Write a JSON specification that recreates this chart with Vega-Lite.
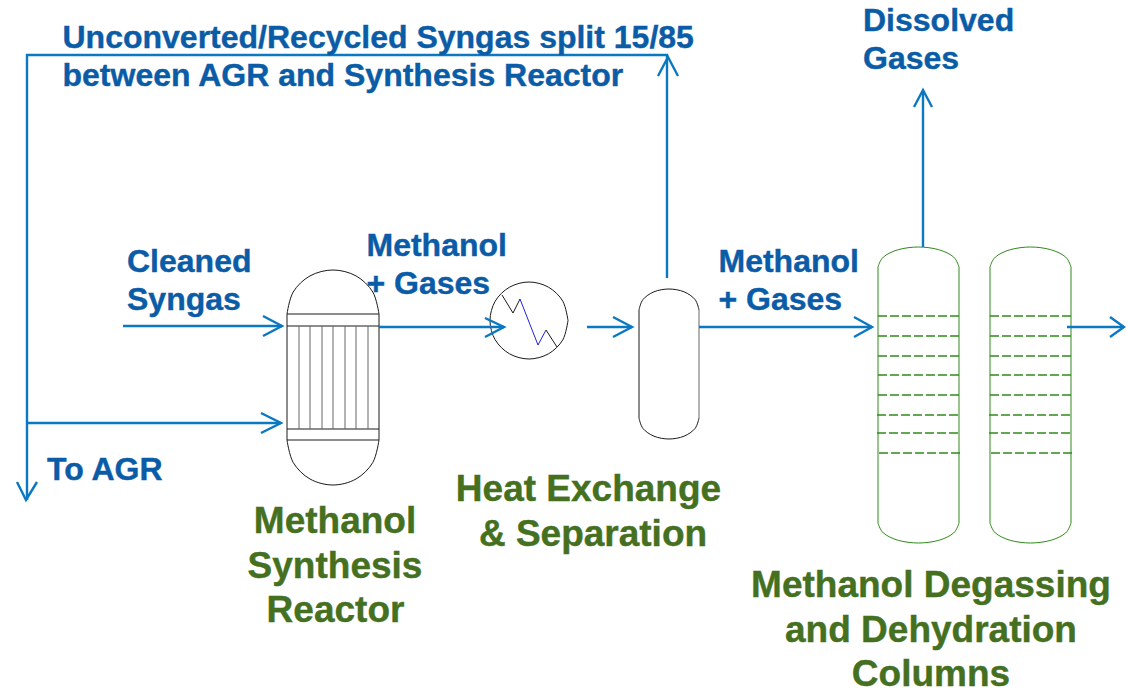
{
"$schema":"https://vega.github.io/schema/vega-lite/v6.json",
"width":1126,"height":690,"padding":0,
"autosize":"none",
"background":"white",
"view":{"stroke":null},
"datasets":{
"domes":[
{"p":"r1","i":1,"x":287,"y":314,"k":"black"},{"p":"r1","i":2,"x":293.2,"y":292,"k":"black"},{"p":"r1","i":3,"x":310,"y":275.9,"k":"black"},{"p":"r1","i":4,"x":333,"y":270,"k":"black"},{"p":"r1","i":5,"x":356,"y":275.9,"k":"black"},{"p":"r1","i":6,"x":372.8,"y":292,"k":"black"},{"p":"r1","i":7,"x":379,"y":314,"k":"black"},
{"p":"r2","i":1,"x":287,"y":440,"k":"black"},{"p":"r2","i":2,"x":293.2,"y":462.5,"k":"black"},{"p":"r2","i":3,"x":310,"y":479,"k":"black"},{"p":"r2","i":4,"x":333,"y":485,"k":"black"},{"p":"r2","i":5,"x":356,"y":479,"k":"black"},{"p":"r2","i":6,"x":372.8,"y":462.5,"k":"black"},{"p":"r2","i":7,"x":379,"y":440,"k":"black"},
{"p":"hx","i":1,"x":568,"y":320.5,"k":"black"},{"p":"hx","i":2,"x":562.8,"y":339.8,"k":"black"},{"p":"hx","i":3,"x":548.5,"y":353.8,"k":"black"},{"p":"hx","i":4,"x":529,"y":359,"k":"black"},{"p":"hx","i":5,"x":509.5,"y":353.8,"k":"black"},{"p":"hx","i":6,"x":495.2,"y":339.8,"k":"black"},{"p":"hx","i":7,"x":490,"y":320.5,"k":"black"},{"p":"hx","i":8,"x":495.2,"y":301.2,"k":"black"},{"p":"hx","i":9,"x":509.5,"y":287.2,"k":"black"},{"p":"hx","i":10,"x":529,"y":282,"k":"black"},{"p":"hx","i":11,"x":548.5,"y":287.2,"k":"black"},{"p":"hx","i":12,"x":562.8,"y":301.2,"k":"black"},{"p":"hx","i":13,"x":568,"y":320.5,"k":"black"},
{"p":"s1","i":1,"x":639,"y":310,"k":"black"},{"p":"s1","i":2,"x":643,"y":299.5,"k":"black"},{"p":"s1","i":3,"x":654,"y":291.8,"k":"black"},{"p":"s1","i":4,"x":669,"y":289,"k":"black"},{"p":"s1","i":5,"x":684,"y":291.8,"k":"black"},{"p":"s1","i":6,"x":695,"y":299.5,"k":"black"},{"p":"s1","i":7,"x":699,"y":310,"k":"black"},
{"p":"s2","i":1,"x":639,"y":418,"k":"black"},{"p":"s2","i":2,"x":643,"y":428.5,"k":"black"},{"p":"s2","i":3,"x":654,"y":436.2,"k":"black"},{"p":"s2","i":4,"x":669,"y":439,"k":"black"},{"p":"s2","i":5,"x":684,"y":436.2,"k":"black"},{"p":"s2","i":6,"x":695,"y":428.5,"k":"black"},{"p":"s2","i":7,"x":699,"y":418,"k":"black"},
{"p":"c1a","i":1,"x":878,"y":267,"k":"green"},{"p":"c1a","i":2,"x":883.4,"y":257,"k":"green"},{"p":"c1a","i":3,"x":898.2,"y":249.7,"k":"green"},{"p":"c1a","i":4,"x":918.5,"y":247,"k":"green"},{"p":"c1a","i":5,"x":938.8,"y":249.7,"k":"green"},{"p":"c1a","i":6,"x":953.6,"y":257,"k":"green"},{"p":"c1a","i":7,"x":959,"y":267,"k":"green"},
{"p":"c1b","i":1,"x":878,"y":523,"k":"green"},{"p":"c1b","i":2,"x":883.4,"y":533,"k":"green"},{"p":"c1b","i":3,"x":898.2,"y":540.3,"k":"green"},{"p":"c1b","i":4,"x":918.5,"y":543,"k":"green"},{"p":"c1b","i":5,"x":938.8,"y":540.3,"k":"green"},{"p":"c1b","i":6,"x":953.6,"y":533,"k":"green"},{"p":"c1b","i":7,"x":959,"y":523,"k":"green"},
{"p":"c2a","i":1,"x":990,"y":267,"k":"green"},{"p":"c2a","i":2,"x":995.4,"y":257,"k":"green"},{"p":"c2a","i":3,"x":1010.2,"y":249.7,"k":"green"},{"p":"c2a","i":4,"x":1030.5,"y":247,"k":"green"},{"p":"c2a","i":5,"x":1050.8,"y":249.7,"k":"green"},{"p":"c2a","i":6,"x":1065.6,"y":257,"k":"green"},{"p":"c2a","i":7,"x":1071,"y":267,"k":"green"},
{"p":"c2b","i":1,"x":990,"y":523,"k":"green"},{"p":"c2b","i":2,"x":995.4,"y":533,"k":"green"},{"p":"c2b","i":3,"x":1010.2,"y":540.3,"k":"green"},{"p":"c2b","i":4,"x":1030.5,"y":543,"k":"green"},{"p":"c2b","i":5,"x":1050.8,"y":540.3,"k":"green"},{"p":"c2b","i":6,"x":1065.6,"y":533,"k":"green"},{"p":"c2b","i":7,"x":1071,"y":523,"k":"green"}
],
"straight":[
{"p":"w1","i":1,"x":287,"y":314,"k":"black"},{"p":"w1","i":2,"x":287,"y":440,"k":"black"},
{"p":"w2","i":1,"x":379,"y":314,"k":"black"},{"p":"w2","i":2,"x":379,"y":440,"k":"black"},
{"p":"h1","i":1,"x":287,"y":314,"k":"black"},{"p":"h1","i":2,"x":379,"y":314,"k":"black"},
{"p":"h2","i":1,"x":287,"y":326,"k":"black"},{"p":"h2","i":2,"x":379,"y":326,"k":"black"},
{"p":"h3","i":1,"x":287,"y":429,"k":"black"},{"p":"h3","i":2,"x":379,"y":429,"k":"black"},
{"p":"h4","i":1,"x":287,"y":440,"k":"black"},{"p":"h4","i":2,"x":379,"y":440,"k":"black"},
{"p":"t1","i":1,"x":299,"y":326,"k":"gray"},{"p":"t1","i":2,"x":299,"y":429,"k":"gray"},
{"p":"t2","i":1,"x":310,"y":326,"k":"gray"},{"p":"t2","i":2,"x":310,"y":429,"k":"gray"},
{"p":"t3","i":1,"x":322,"y":326,"k":"gray"},{"p":"t3","i":2,"x":322,"y":429,"k":"gray"},
{"p":"t4","i":1,"x":333,"y":326,"k":"gray"},{"p":"t4","i":2,"x":333,"y":429,"k":"gray"},
{"p":"t5","i":1,"x":345,"y":326,"k":"gray"},{"p":"t5","i":2,"x":345,"y":429,"k":"gray"},
{"p":"t6","i":1,"x":356,"y":326,"k":"gray"},{"p":"t6","i":2,"x":356,"y":429,"k":"gray"},
{"p":"t7","i":1,"x":368,"y":326,"k":"gray"},{"p":"t7","i":2,"x":368,"y":429,"k":"gray"},
{"p":"z1","i":1,"x":502,"y":295,"k":"black"},{"p":"z1","i":2,"x":513,"y":313,"k":"black"},{"p":"z1","i":3,"x":520,"y":299,"k":"black"},
{"p":"z2","i":1,"x":520,"y":299,"k":"blue"},{"p":"z2","i":2,"x":538,"y":345,"k":"blue"},{"p":"z2","i":3,"x":546,"y":330,"k":"blue"},
{"p":"z3","i":1,"x":546,"y":330,"k":"black"},{"p":"z3","i":2,"x":557,"y":347,"k":"black"},
{"p":"s3","i":1,"x":639,"y":310,"k":"black"},{"p":"s3","i":2,"x":639,"y":418,"k":"black"},
{"p":"s4","i":1,"x":699,"y":310,"k":"gray"},{"p":"s4","i":2,"x":699,"y":418,"k":"gray"},
{"p":"c1","i":1,"x":878,"y":267,"k":"green"},{"p":"c1","i":2,"x":878,"y":523,"k":"green"},
{"p":"c2","i":1,"x":959,"y":267,"k":"green"},{"p":"c2","i":2,"x":959,"y":523,"k":"green"},
{"p":"c3","i":1,"x":990,"y":267,"k":"green"},{"p":"c3","i":2,"x":990,"y":523,"k":"green"},
{"p":"c4","i":1,"x":1071,"y":267,"k":"green"},{"p":"c4","i":2,"x":1071,"y":523,"k":"green"}
],
"trays":[
{"p":"a1","i":1,"x":878,"y":316},{"p":"a1","i":2,"x":959,"y":316},{"p":"a2","i":1,"x":878,"y":336},{"p":"a2","i":2,"x":959,"y":336},{"p":"a3","i":1,"x":878,"y":356},{"p":"a3","i":2,"x":959,"y":356},{"p":"a4","i":1,"x":878,"y":375},{"p":"a4","i":2,"x":959,"y":375},{"p":"a5","i":1,"x":878,"y":395},{"p":"a5","i":2,"x":959,"y":395},{"p":"a6","i":1,"x":877,"y":415},{"p":"a6","i":2,"x":959,"y":415},{"p":"a7","i":1,"x":877,"y":433},{"p":"a7","i":2,"x":959,"y":433},{"p":"a8","i":1,"x":879,"y":453},{"p":"a8","i":2,"x":960,"y":453},
{"p":"b1","i":1,"x":990,"y":316},{"p":"b1","i":2,"x":1071,"y":316},{"p":"b2","i":1,"x":990,"y":336},{"p":"b2","i":2,"x":1071,"y":336},{"p":"b3","i":1,"x":990,"y":356},{"p":"b3","i":2,"x":1071,"y":356},{"p":"b4","i":1,"x":990,"y":375},{"p":"b4","i":2,"x":1071,"y":375},{"p":"b5","i":1,"x":990,"y":395},{"p":"b5","i":2,"x":1071,"y":395},{"p":"b6","i":1,"x":989,"y":415},{"p":"b6","i":2,"x":1071,"y":415},{"p":"b7","i":1,"x":989,"y":433},{"p":"b7","i":2,"x":1071,"y":433},{"p":"b8","i":1,"x":991,"y":453},{"p":"b8","i":2,"x":1072,"y":453}
],
"flows":[
{"p":"f1","i":1,"x":667,"y":278},{"p":"f1","i":2,"x":667,"y":55},{"p":"f1","i":3,"x":27,"y":55},{"p":"f1","i":4,"x":27,"y":500},
{"p":"f1h","i":1,"x":658,"y":76},{"p":"f1h","i":2,"x":668,"y":57},{"p":"f1h","i":3,"x":678,"y":76},
{"p":"f2h","i":1,"x":17,"y":482},{"p":"f2h","i":2,"x":26,"y":500},{"p":"f2h","i":3,"x":37,"y":482},
{"p":"f3","i":1,"x":27,"y":423},{"p":"f3","i":2,"x":281,"y":423},
{"p":"f3h","i":1,"x":261,"y":413},{"p":"f3h","i":2,"x":281,"y":423},{"p":"f3h","i":3,"x":261,"y":433},
{"p":"f4","i":1,"x":123,"y":326},{"p":"f4","i":2,"x":282,"y":326},
{"p":"f4h","i":1,"x":263,"y":316},{"p":"f4h","i":2,"x":282,"y":326},{"p":"f4h","i":3,"x":263,"y":336},
{"p":"f5","i":1,"x":379,"y":327},{"p":"f5","i":2,"x":504,"y":327},
{"p":"f5h","i":1,"x":485,"y":318},{"p":"f5h","i":2,"x":504,"y":327},{"p":"f5h","i":3,"x":485,"y":337},
{"p":"f6","i":1,"x":587,"y":327},{"p":"f6","i":2,"x":632,"y":327},
{"p":"f6h","i":1,"x":613,"y":317},{"p":"f6h","i":2,"x":632,"y":327},{"p":"f6h","i":3,"x":613,"y":337},
{"p":"f7","i":1,"x":699,"y":327},{"p":"f7","i":2,"x":872,"y":327},
{"p":"f7h","i":1,"x":854,"y":317},{"p":"f7h","i":2,"x":872,"y":327},{"p":"f7h","i":3,"x":854,"y":337},
{"p":"f8","i":1,"x":1067,"y":327},{"p":"f8","i":2,"x":1124,"y":327},
{"p":"f8h","i":1,"x":1110,"y":317},{"p":"f8h","i":2,"x":1124,"y":327},{"p":"f8h","i":3,"x":1110,"y":337},
{"p":"f9","i":1,"x":923,"y":247},{"p":"f9","i":2,"x":923,"y":91},
{"p":"f9h","i":1,"x":914,"y":107},{"p":"f9h","i":2,"x":923,"y":90},{"p":"f9h","i":3,"x":932,"y":107}
],
"blueText":[
{"x":62.5,"y":48,"t":"Unconverted/Recycled Syngas split 15/85"},
{"x":62.5,"y":86,"t":"between AGR and Synthesis Reactor"},
{"x":863,"y":31,"t":"Dissolved"},
{"x":863,"y":69,"t":"Gases"},
{"x":127,"y":272,"t":"Cleaned"},
{"x":127,"y":310,"t":"Syngas"},
{"x":366.5,"y":256,"t":"Methanol"},
{"x":366.5,"y":294,"t":"+ Gases"},
{"x":718.5,"y":272,"t":"Methanol"},
{"x":718.5,"y":310,"t":"+ Gases"},
{"x":47,"y":480,"t":"To AGR"}
],
"greenText":[
{"x":335,"y":533,"t":"Methanol"},
{"x":335,"y":578,"t":"Synthesis"},
{"x":335.5,"y":622,"t":"Reactor"},
{"x":588.5,"y":501,"t":"Heat Exchange"},
{"x":593,"y":546,"t":"& Separation"},
{"x":931,"y":597,"t":"Methanol Degassing"},
{"x":931,"y":642,"t":"and Dehydration"},
{"x":931,"y":686,"t":"Columns"}
]
},
"encoding":{
"x":{"field":"x","type":"quantitative","axis":null,"scale":{"domain":[0,1126],"nice":false,"zero":false}},
"y":{"field":"y","type":"quantitative","axis":null,"scale":{"domain":[0,690],"reverse":true,"nice":false,"zero":false}}
},
"layer":[
{"data":{"name":"domes"},"mark":{"type":"line","interpolate":"cardinal","strokeWidth":1},
"encoding":{"detail":{"field":"p"},"order":{"field":"i","type":"quantitative"},"color":{"field":"k","type":"nominal","legend":null,"scale":{"domain":["black","gray","blue","green"],"range":["#1a1a1a","#666666","#2222dd","#2f8a1a"]}}}},
{"data":{"name":"straight"},"mark":{"type":"line","strokeWidth":1},
"encoding":{"detail":{"field":"p"},"order":{"field":"i","type":"quantitative"},"color":{"field":"k","type":"nominal","legend":null}}},
{"data":{"name":"trays"},"mark":{"type":"line","strokeWidth":1.3,"strokeDash":[9,3],"color":"#2f8a1a"},
"encoding":{"detail":{"field":"p"},"order":{"field":"i","type":"quantitative"}}},
{"data":{"name":"flows"},"mark":{"type":"line","strokeWidth":2.4,"color":"#0a78c2","strokeJoin":"miter"},
"encoding":{"detail":{"field":"p"},"order":{"field":"i","type":"quantitative"}}},
{"data":{"name":"blueText"},"mark":{"type":"text","align":"left","baseline":"alphabetic","font":"Liberation Sans","fontWeight":"bold","fontSize":32,"color":"#0b5ca6","stroke":"#0b5ca6","strokeWidth":0.4},
"encoding":{"text":{"field":"t"}}},
{"data":{"name":"greenText"},"mark":{"type":"text","align":"center","baseline":"alphabetic","font":"Liberation Sans","fontWeight":"bold","fontSize":37,"color":"#44701f","stroke":"#44701f","strokeWidth":0.4},
"encoding":{"text":{"field":"t"}}}
]
}
